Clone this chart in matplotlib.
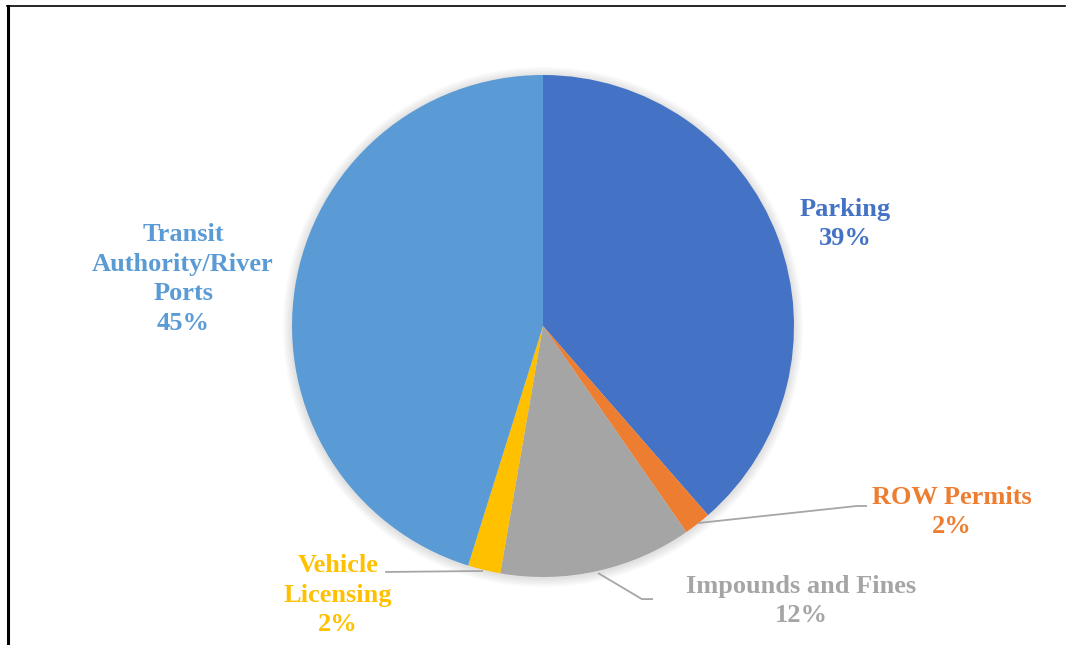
import matplotlib.pyplot as plt
from matplotlib.lines import Line2D
from matplotlib.patches import Circle

# data (shares in %)
labels = ['Parking', 'ROW Permits', 'Impounds and Fines', 'Vehicle\nLicensing',
          'Transit\nAuthority/River\nPorts']
shares = [38.6, 1.75, 12.4, 2.1, 45.2]
pct_text = ['39%', '2%', '12%', '2%', '45%']
colors = ['#4472C4', '#ED7D31', '#A5A5A5', '#FFC000', '#5B9BD5']

# label placement (pie radius = 1)
label_pos = [(1.203, 0.406), (1.629, -0.741), (1.028, -1.096), (-0.817, -1.072), (-1.434, 0.187)]
leaders = {
    1: [(0.618, -0.785), (1.251, -0.717), (1.291, -0.717)],
    2: [(0.219, -0.984), (0.394, -1.088), (0.438, -1.088)],
    3: [(-0.239, -0.976), (-0.629, -0.980)],
}

W, H = 1068, 645
cx, cy, R = 543, 326, 251

fig = plt.figure(figsize=(W / 100, H / 100), dpi=100)
ax = fig.add_axes([0, 0, 1, 1])

# soft shadow behind the pie
for i in range(6):
    ax.add_patch(Circle((0, -0.004), 1 + 0.006 * (i + 1), color='black',
                        alpha=0.02, lw=0, zorder=0))

ax.pie(shares, colors=colors, startangle=90, counterclock=False, radius=1,
       wedgeprops=dict(linewidth=0, zorder=1))

ax.set_xlim(-cx / R, (W - cx) / R)
ax.set_ylim(-(H - cy) / R, cy / R)
ax.set_aspect('auto')
ax.axis('off')

for i, (lab, pct) in enumerate(zip(labels, pct_text)):
    x, y = label_pos[i]
    ax.text(x, y, lab + '\n' + pct, ha='center', va='center', color=colors[i],
            fontsize=19, fontweight='bold', family='Liberation Serif',
            linespacing=1.36, zorder=3)

for k, pts in leaders.items():
    xs = [p[0] for p in pts]
    ys = [p[1] for p in pts]
    ax.plot(xs, ys, color='#A6A6A6', lw=1.3, zorder=2, solid_capstyle='butt')

# chart frame (top and left edges visible)
fig.add_artist(Line2D([7.5 / W, 7.5 / W], [0, 1 - 6 / H], color='black', lw=2.2))
fig.add_artist(Line2D([7 / W, 1065 / W], [1 - 6 / H, 1 - 6 / H], color='black', lw=1.2))

fig.savefig('out.png', dpi=100)
